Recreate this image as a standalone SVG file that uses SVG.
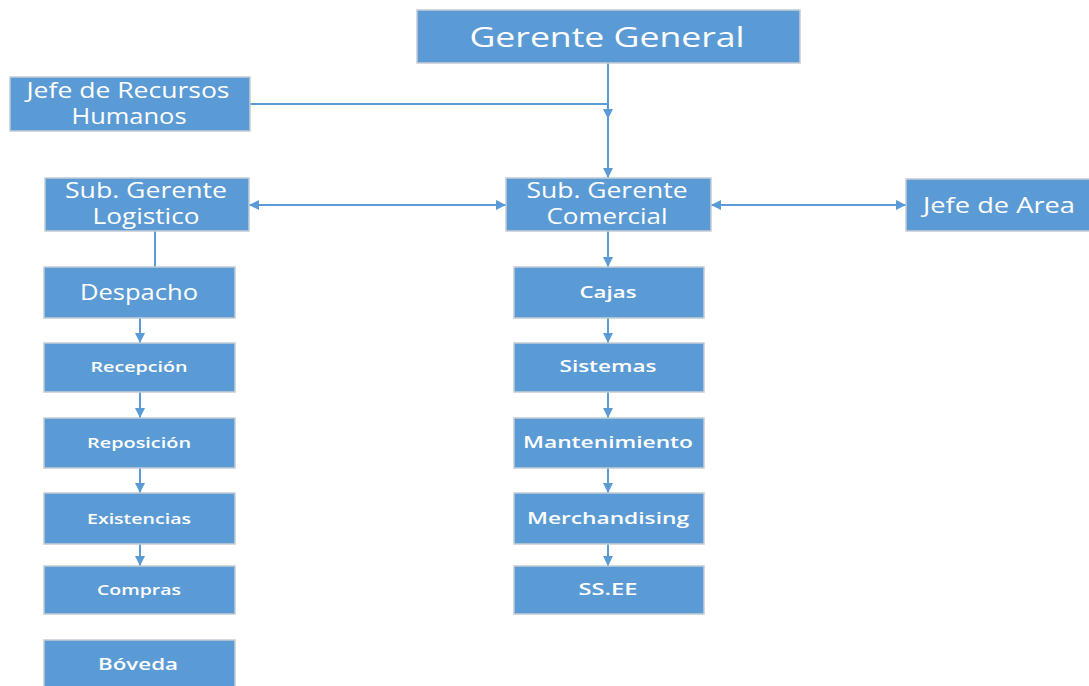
<svg xmlns="http://www.w3.org/2000/svg" width="1089" height="686" viewBox="0 0 1089 686">
  <defs>
    <marker id="arr" viewBox="0 0 10 10" refX="10" refY="5" markerWidth="5" markerHeight="5" orient="auto-start-reverse" markerUnits="strokeWidth">
      <path d="M0,0 L10,5 L0,10 z" fill="#5B9BD5"/>
    </marker>
  </defs>
  <style>
    .box { fill: #5B9BD5; stroke: #c4ccd4; stroke-width: 1.5; }
    .t { fill: #ffffff; font-family: "Open Sans", "Noto Sans", sans-serif; text-anchor: middle; dominant-baseline: central; }
    .big { font-size: 28px; }
    .mid { font-size: 21px; }
    .sm { font-size: 15px; font-weight: 600; }
    .smc { font-size: 16px; font-weight: 600; }
    .ln { stroke: #5B9BD5; stroke-width: 2; fill: none; }
  </style>
  <rect width="1089" height="686" fill="#ffffff"/>

  <g id="connectors">
    <line class="ln" x1="608" y1="63" x2="608" y2="119" marker-end="url(#arr)"/>
    <line class="ln" x1="608" y1="119" x2="608" y2="178" marker-end="url(#arr)"/>
    <line class="ln" x1="250" y1="104" x2="608" y2="104"/>
    <line class="ln" x1="249" y1="205" x2="506" y2="205" marker-start="url(#arr)" marker-end="url(#arr)"/>
    <line class="ln" x1="711" y1="205" x2="906" y2="205" marker-start="url(#arr)" marker-end="url(#arr)"/>
    <line class="ln" x1="155" y1="231" x2="155" y2="267"/>
    <line class="ln" x1="140" y1="318" x2="140" y2="343" marker-end="url(#arr)"/>
    <line class="ln" x1="140" y1="392" x2="140" y2="418" marker-end="url(#arr)"/>
    <line class="ln" x1="140" y1="468" x2="140" y2="493" marker-end="url(#arr)"/>
    <line class="ln" x1="140" y1="544" x2="140" y2="566" marker-end="url(#arr)"/>
    <line class="ln" x1="608" y1="231" x2="608" y2="267" marker-end="url(#arr)"/>
    <line class="ln" x1="608" y1="318" x2="608" y2="343" marker-end="url(#arr)"/>
    <line class="ln" x1="608" y1="392" x2="608" y2="418" marker-end="url(#arr)"/>
    <line class="ln" x1="608" y1="468" x2="608" y2="493" marker-end="url(#arr)"/>
    <line class="ln" x1="608" y1="544" x2="608" y2="566" marker-end="url(#arr)"/>
  </g>

  <g id="gerente-general">
    <rect class="box" x="417" y="10" width="383" height="53"/>
    <text class="t big" x="607" y="36" textLength="275" lengthAdjust="spacingAndGlyphs">Gerente General</text>
  </g>
  <g id="jefe-rrhh">
    <rect class="box" x="10" y="77" width="240" height="54"/>
    <text class="t mid" x="128" y="90" textLength="203" lengthAdjust="spacingAndGlyphs">Jefe de Recursos</text>
    <text class="t mid" x="129" y="116" textLength="115" lengthAdjust="spacingAndGlyphs">Humanos</text>
  </g>
  <g id="sub-gerente-logistico">
    <rect class="box" x="45" y="178" width="204" height="53"/>
    <text class="t mid" x="146" y="190" textLength="162" lengthAdjust="spacingAndGlyphs">Sub. Gerente</text>
    <text class="t mid" x="146" y="216" textLength="107" lengthAdjust="spacingAndGlyphs">Logistico</text>
  </g>
  <g id="sub-gerente-comercial">
    <rect class="box" x="506" y="178" width="205" height="53"/>
    <text class="t mid" x="607" y="190" textLength="161" lengthAdjust="spacingAndGlyphs">Sub. Gerente</text>
    <text class="t mid" x="607" y="216" textLength="121" lengthAdjust="spacingAndGlyphs">Comercial</text>
  </g>
  <g id="jefe-area">
    <rect class="box" x="906" y="179" width="190" height="52"/>
    <text class="t mid" x="999" y="205" textLength="152" lengthAdjust="spacingAndGlyphs">Jefe de Area</text>
  </g>

  <g id="despacho">
    <rect class="box" x="44" y="267" width="191" height="51"/>
    <text class="t mid" x="139" y="292" textLength="118" lengthAdjust="spacingAndGlyphs">Despacho</text>
  </g>
  <g id="recepcion">
    <rect class="box" x="44" y="343" width="191" height="49"/>
    <text class="t sm" x="139" y="366" textLength="97" lengthAdjust="spacingAndGlyphs">Recepción</text>
  </g>
  <g id="reposicion">
    <rect class="box" x="44" y="418" width="191" height="50"/>
    <text class="t sm" x="139" y="442" textLength="104" lengthAdjust="spacingAndGlyphs">Reposición</text>
  </g>
  <g id="existencias">
    <rect class="box" x="44" y="493" width="191" height="51"/>
    <text class="t sm" x="139" y="518" textLength="104" lengthAdjust="spacingAndGlyphs">Existencias</text>
  </g>
  <g id="compras">
    <rect class="box" x="44" y="566" width="191" height="48"/>
    <text class="t sm" x="139" y="589" textLength="84" lengthAdjust="spacingAndGlyphs">Compras</text>
  </g>
  <g id="boveda">
    <rect class="box" x="44" y="640" width="191" height="50"/>
    <text class="t smc" x="138" y="664" textLength="80" lengthAdjust="spacingAndGlyphs">Bóveda</text>
  </g>

  <g id="cajas">
    <rect class="box" x="514" y="267" width="190" height="51"/>
    <text class="t smc" x="608" y="292" textLength="57" lengthAdjust="spacingAndGlyphs">Cajas</text>
  </g>
  <g id="sistemas">
    <rect class="box" x="514" y="343" width="190" height="49"/>
    <text class="t smc" x="608" y="366" textLength="97" lengthAdjust="spacingAndGlyphs">Sistemas</text>
  </g>
  <g id="mantenimiento">
    <rect class="box" x="514" y="418" width="190" height="50"/>
    <text class="t smc" x="608" y="442" textLength="170" lengthAdjust="spacingAndGlyphs">Mantenimiento</text>
  </g>
  <g id="merchandising">
    <rect class="box" x="514" y="493" width="190" height="51"/>
    <text class="t smc" x="608" y="518" textLength="162" lengthAdjust="spacingAndGlyphs">Merchandising</text>
  </g>
  <g id="ssee">
    <rect class="box" x="514" y="566" width="190" height="48"/>
    <text class="t smc" x="608" y="589" textLength="59" lengthAdjust="spacingAndGlyphs">SS.EE</text>
  </g>
</svg>
